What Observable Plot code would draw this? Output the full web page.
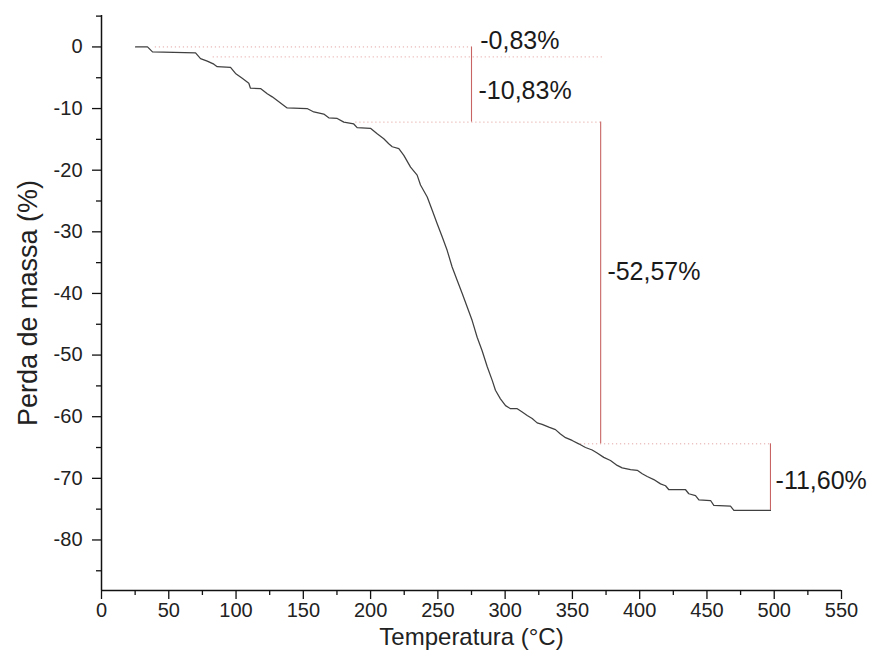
<!DOCTYPE html>
<html>
<head>
<meta charset="utf-8">
<script src="https://cdn.jsdelivr.net/npm/d3@7"></script>
<script src="https://cdn.jsdelivr.net/npm/@observablehq/plot@0.6"></script>
<style>
  html, body { margin: 0; padding: 0; background: #fff; }
  #chart svg { display: block; }
</style>
</head>
<body>
<div id="chart"></div>
<script>
// TGA curve: temperature (°C) and mass loss (%)
const temperature = [25.3, 34.2, 37.9, 69.9, 73.6, 78.6, 83.5, 86.0, 95.9, 99.6, 104.6, 109.5, 110.7, 118.2, 123.2, 126.9, 130.6, 135.5, 138.0, 152.8, 157.8, 165.2, 168.9, 175.2, 180.1, 187.5, 190.0, 199.9, 204.9, 209.8, 213.5, 216.1, 221.0, 224.7, 229.7, 234.6, 237.1, 242.1, 245.8, 249.5, 253.2, 256.9, 260.6, 264.4, 268.1, 271.8, 275.5, 279.2, 282.9, 286.7, 290.4, 292.8, 296.5, 300.3, 304.0, 309.0, 312.7, 316.4, 320.1, 323.8, 327.5, 332.5, 337.4, 341.1, 344.9, 349.8, 354.7, 359.7, 364.7, 368.4, 373.3, 378.3, 383.3, 387.0, 393.2, 398.2, 401.9, 405.6, 410.5, 415.5, 419.2, 421.7, 434.1, 436.5, 441.5, 444.0, 452.7, 455.1, 467.5, 470.0, 497.2];
const massLoss = [0, 0, -0.81, -0.97, -1.9, -2.3, -2.8, -3.2, -3.3, -4.3, -5.1, -5.9, -6.7, -6.75, -7.6, -8.1, -8.7, -9.5, -9.9, -10.0, -10.55, -10.9, -11.5, -11.6, -12.2, -12.5, -13.1, -13.2, -14.1, -14.9, -15.7, -16.2, -16.5, -17.6, -19.5, -20.8, -22.4, -24.35, -26.5, -28.7, -30.8, -33.0, -35.7, -37.9, -40.0, -42.2, -44.4, -47.1, -49.3, -51.9, -54.1, -55.7, -57.1, -58.2, -58.7, -58.7, -59.25, -59.8, -60.3, -61.0, -61.25, -61.7, -62.1, -62.8, -63.4, -63.85, -64.4, -65.0, -65.4, -65.9, -66.6, -67.1, -67.9, -68.3, -68.6, -68.7, -69.25, -69.7, -70.2, -70.9, -71.2, -71.85, -71.85, -72.5, -72.8, -73.5, -73.6, -74.4, -74.5, -75.2, -75.2];

// Dotted guide lines (level, start, end)
const guideLevel = [0, -1.62, -12.2, -64.4];
const guideStart = [40, 83, 189, 356];
const guideEnd = [275, 373, 371, 497];

// Red step markers (x, top, bottom)
const stepX = [275, 371, 497.2];
const stepTop = [0, -12.2, -64.4];
const stepBottom = [-12.2, -64.4, -75.2];

// Annotation labels
const labelText = ["-0,83%", "-10,83%", "-52,57%", "-11,60%"];
const labelX = [281.5, 280.2, 376, 501];
const labelY = [0.9, -7.2, -36.6, -70.5];

// Ticks
const xMajor = [0, 50, 100, 150, 200, 250, 300, 350, 400, 450, 500, 550];
const xMinor = [25, 75, 125, 175, 225, 275, 325, 375, 425, 475, 525];
const yMajor = [0, -10, -20, -30, -40, -50, -60, -70, -80];
const yMinor = [5, -5, -15, -25, -35, -45, -55, -65, -75, -85];

const xDomain = [0, 550];
const yDomain = [-88.2, 5.1];

const curve = temperature.map((t, i) => ({t, v: massLoss[i]}));
const guides = guideLevel.map((v, i) => ({v, x1: guideStart[i], x2: guideEnd[i]}));
const steps = stepX.map((x, i) => ({x, y1: stepTop[i], y2: stepBottom[i]}));
const labels = labelText.map((s, i) => ({s, x: labelX[i], y: labelY[i]}));

const font = "'Liberation Sans', Arial, sans-serif";

const chart = Plot.plot({
  width: 876,
  height: 650,
  marginLeft: 101,
  marginRight: 35,
  marginTop: 15,
  marginBottom: 60,
  style: {fontFamily: font, fontSize: "20px", color: "#222", background: "#fff"},
  x: {domain: xDomain},
  y: {domain: yDomain},
  marks: [
    Plot.ruleY(guides, {y: "v", x1: "x1", x2: "x2", stroke: "#d46a6a", strokeOpacity: 0.6, strokeWidth: 1, strokeDasharray: "1.2,2.8"}),
    Plot.ruleX(steps, {x: "x", y1: "y1", y2: "y2", stroke: "#c86464", strokeWidth: 1.1}),
    Plot.line(curve, {x: "t", y: "v", stroke: "#404040", strokeWidth: 1.25}),
    Plot.text(labels, {x: "x", y: "y", text: "s", textAnchor: "start", fontSize: 25, fill: "#1a1a1a", fontFamily: font}),
    Plot.ruleX([xDomain[0]], {stroke: "#111", strokeWidth: 1.5}),
    Plot.ruleY([yDomain[0]], {stroke: "#111", strokeWidth: 1.5}),
    Plot.axisX({ticks: xMajor, tickSize: 9, tickPadding: 3, tickFormat: d => String(d), fontSize: 20, label: "Temperatura (°C)", labelAnchor: "center", labelArrow: "none", labelOffset: 54, stroke: "#111", strokeWidth: 1.3}),
    Plot.axisX({ticks: xMinor, tickSize: 5, text: null, label: null, stroke: "#111", strokeWidth: 1.3}),
    Plot.axisY({ticks: yMajor, tickSize: 9, tickPadding: 10, tickFormat: d => String(d), fontSize: 20, label: "Perda de massa (%)", labelAnchor: "center", labelArrow: "none", labelOffset: 84, stroke: "#111", strokeWidth: 1.3}),
    Plot.axisY({ticks: yMinor, tickSize: 5, text: null, label: null, stroke: "#111", strokeWidth: 1.3})
  ]
});

// enlarge axis titles
chart.querySelectorAll("g[aria-label='x-axis label'] text").forEach(t => t.setAttribute("font-size", "24"));
chart.querySelectorAll("g[aria-label='y-axis label'] text").forEach(t => t.setAttribute("font-size", "27"));
document.getElementById("chart").appendChild(chart);
</script>
</body>
</html>
